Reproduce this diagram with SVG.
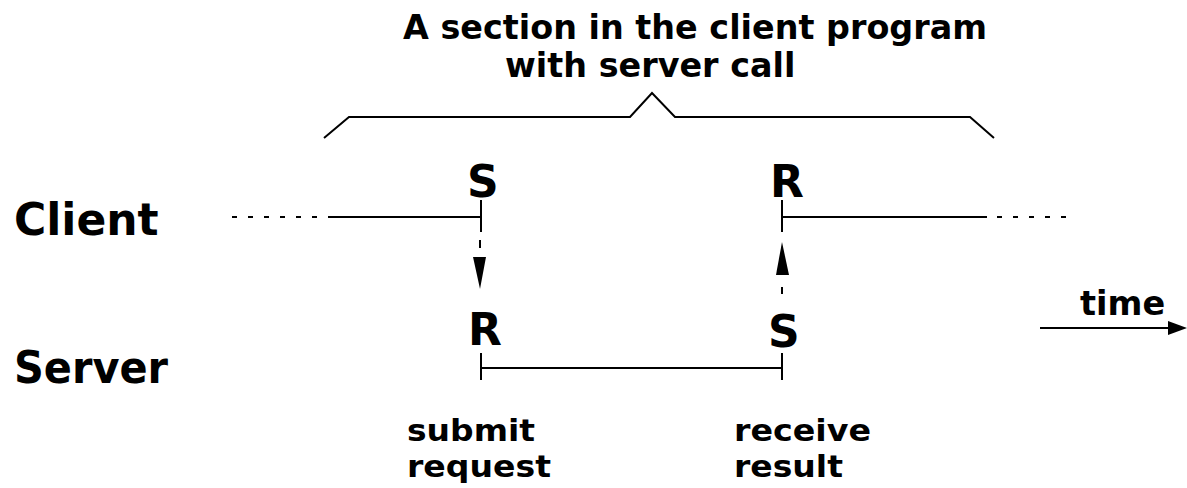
<svg xmlns="http://www.w3.org/2000/svg" width="1187" height="488" viewBox="0 0 1187 488">
  <style>
    text { font-family: "DejaVu Sans", Verdana, sans-serif; font-weight: bold; fill: #000; }
    .title { font-size: 33.4px; }
    .role { font-size: 44px; }
    .ev { font-size: 44px; }
    .lbl { font-size: 30.5px; }
    .tm { font-size: 33.5px; }
    .ln { stroke: #000; stroke-width: 2; fill: none; }
    .dot { stroke: #000; stroke-width: 2; fill: none; stroke-dasharray: 5 11; }
    .head { fill: #000; stroke: none; }
  </style>
  <rect width="1187" height="488" fill="#fff"/>

  <g id="title">
    <text class="title"><tspan x="403" y="39">A section in the client program</tspan><tspan x="505" y="77">with server call</tspan></text>
  </g>

  <g id="brace">
    <polyline class="ln" points="324,138 349,117 630,117 652,93 675,117 970,117 994,138"/>
  </g>

  <g id="client-label"><text class="role" x="14" y="235">Client</text></g>
  <g id="server-label"><text class="role" x="14" y="383" textLength="154" lengthAdjust="spacingAndGlyphs">Server</text></g>

  <g id="client-send"><text class="ev" x="467" y="197">S</text></g>
  <g id="client-receive"><text class="ev" x="770" y="197">R</text></g>
  <g id="server-receive"><text class="ev" x="468" y="345">R</text></g>
  <g id="server-send"><text class="ev" x="768" y="347">S</text></g>

  <g id="submit-label">
    <text class="lbl" x="407" y="441" textLength="128" lengthAdjust="spacingAndGlyphs">submit</text>
    <text class="lbl" x="407" y="477" textLength="144" lengthAdjust="spacingAndGlyphs">request</text>
  </g>
  <g id="receive-label">
    <text class="lbl" x="734" y="441" textLength="137" lengthAdjust="spacingAndGlyphs">receive</text>
    <text class="lbl" x="734" y="477" textLength="109" lengthAdjust="spacingAndGlyphs">result</text>
  </g>
  <g id="time-label"><text class="tm" x="1080" y="315">time</text></g>

  <g id="connectors">
    <!-- client timeline -->
    <line class="dot" x1="232" y1="217" x2="322" y2="217"/>
    <line class="ln" x1="328" y1="217" x2="481" y2="217"/>
    <line class="ln" x1="481" y1="200" x2="481" y2="232"/>
    <line class="ln" x1="782" y1="200" x2="782" y2="232"/>
    <line class="ln" x1="782" y1="217" x2="987" y2="217"/>
    <line class="dot" x1="997" y1="217" x2="1070" y2="217"/>

    <!-- request arrow (down) -->
    <line class="ln" x1="480" y1="240" x2="480" y2="248"/>
    <polygon class="head" points="473,257 486,257 480,289"/>

    <!-- result arrow (up) -->
    <polygon class="head" points="776,275 789,275 782,242"/>
    <line class="ln" x1="782" y1="287" x2="782" y2="294"/>

    <!-- server timeline -->
    <line class="ln" x1="481" y1="353" x2="481" y2="380"/>
    <line class="ln" x1="481" y1="368" x2="782" y2="368"/>
    <line class="ln" x1="782" y1="353" x2="782" y2="380"/>

    <!-- time arrow -->
    <line class="ln" x1="1040" y1="328" x2="1172" y2="328"/>
    <polygon class="head" points="1168,321 1187,328 1168,335"/>
  </g>
</svg>
